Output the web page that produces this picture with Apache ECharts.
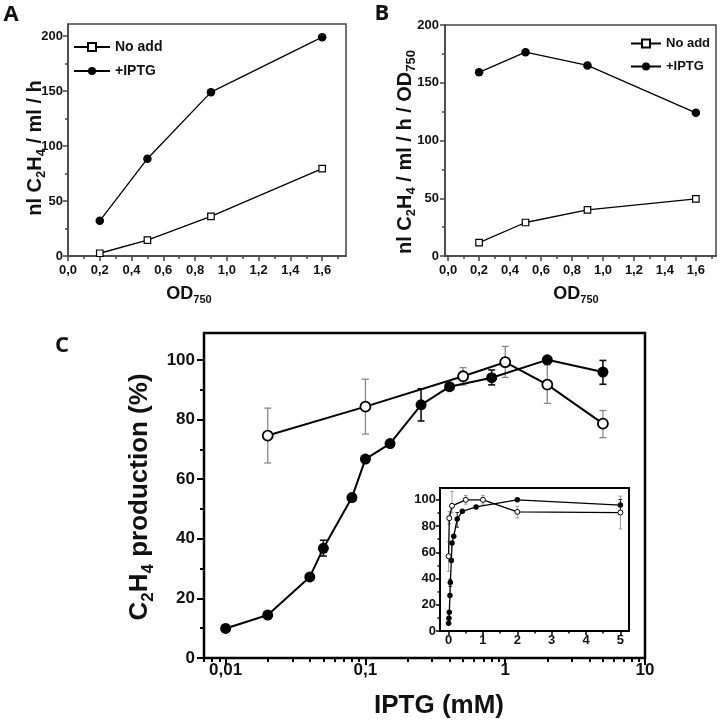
<!DOCTYPE html>
<html><head><meta charset="utf-8">
<script src="https://cdn.jsdelivr.net/npm/echarts@6/dist/echarts.min.js"></script>
<style>html,body{margin:0;padding:0;background:#fff}#c{width:724px;height:726px}</style>
</head><body><div id="c"></div>
<script>
// ---------- Panel A & B data ----------
const odX = [0.2, 0.5, 0.9, 1.6];
const aNoAdd = [2.5, 14.5, 36, 79.5];
const aIPTG = [32, 88.5, 149, 199];
const bNoAdd = [11.5, 29, 40, 49.5];
const bIPTG = [159, 176.5, 165, 124];
// ---------- Panel C (log x) ----------
const cFilledX = [0.01, 0.02, 0.04, 0.05, 0.08, 0.1, 0.15, 0.25, 0.4, 0.8, 2, 5];
const cFilledY = [9.9, 14.4, 27.2, 36.8, 53.8, 66.7, 71.9, 84.9, 91.0, 94.0, 100, 95.9];
const cFilledErrX = [0.05, 0.25, 0.8, 5];
const cFilledErrLo = [34.2, 79.5, 91.6, 91.8];
const cFilledErrHi = [39.5, 90.3, 96.6, 99.8];
const cOpenX = [0.02, 0.1, 0.5, 1, 2, 5];
const cOpenY = [74.6, 84.3, 94.5, 99.2, 91.7, 78.6];
const cOpenErrLo = [65.4, 75.1, 91.6, 94.1, 85.4, 73.9];
const cOpenErrHi = [83.8, 93.5, 97.4, 104.5, 98.3, 83.0];
// ---------- Inset (linear x) ----------
const insFilledX = [0, 0.01, 0.02, 0.04, 0.05, 0.08, 0.1, 0.15, 0.25, 0.4, 0.8, 2, 5];
const insFilledY = [6, 9.7, 14.3, 27, 36.9, 53.8, 67, 72.2, 85.4, 91.2, 94.6, 100, 96];
const insFilledErrX = [0.05, 0.25, 5];
const insFilledErrLo = [34, 79.1, 91.8];
const insFilledErrHi = [39.5, 90.3, 100.2];
const insOpenX = [0, 0.02, 0.1, 0.5, 1, 2, 5];
const insOpenY = [57, 86, 95.4, 100, 100, 90.8, 90.3];
const insOpenErrLo = [45.5, 81.5, 90, 96.7, 96.7, 86.2, 77.8];
const insOpenErrHi = [68, 91, 106.4, 103.3, 103.3, 95, 102.8];
// ---------- Tick values ----------
const odTicks = [0, 0.2, 0.4, 0.6, 0.8, 1.0, 1.2, 1.4, 1.6];
const odMinor = [0.1, 0.3, 0.5, 0.7, 0.9, 1.1, 1.3, 1.5, 1.7];
const rateTicks = [0, 50, 100, 150, 200];
const rateMinor = [25, 75, 125, 175];
const pctTicks = [0, 20, 40, 60, 80, 100];
const pctMinor = [10, 30, 50, 70, 90];
const iptgTicks = [0.01, 0.1, 1, 10];
const iptgMinor = [0.007, 0.008, 0.009, 0.02, 0.03, 0.04, 0.05, 0.06, 0.07, 0.08, 0.09,
  0.2, 0.3, 0.4, 0.5, 0.6, 0.7, 0.8, 0.9, 2, 3, 4, 5, 6, 7, 8, 9];
const insTicks = [0, 1, 2, 3, 4, 5];
const insMinor = [0.5, 1.5, 2.5, 3.5, 4.5];

const FF = '"Liberation Sans", Arial, sans-serif';
const INK = '#111';

function axes(dim, gi, common, major, minor, fmt, fontSize, margin, tickLen, minorLen, color, w) {
  const pos = dim === 'x' ? 'bottom' : 'left';
  const base = Object.assign({ gridIndex: gi, position: pos, splitLine: { show: false }, offset: 0 }, common);
  return [
    Object.assign({}, base, {
      axisLine: { show: true, onZero: false, lineStyle: { color: color, width: w } },
      axisTick: { show: true, customValues: major, length: tickLen, lineStyle: { color: color, width: w } },
      axisLabel: { show: true, customValues: major, formatter: fmt, margin: margin,
        fontFamily: FF, fontWeight: 'bold', fontSize: fontSize, color: INK }
    }),
    Object.assign({}, base, {
      axisLine: { show: false, onZero: false },
      axisTick: { show: true, customValues: minor, length: minorLen, lineStyle: { color: color, width: w } },
      axisLabel: { show: false }
    })
  ];
}
const comma1 = v => v.toFixed(1).replace('.', ',');
const commaAny = v => String(v).replace('.', ',');
const plain = v => String(v);

const xAxes = [].concat(
  axes('x', 0, { type: 'value', min: 0, max: 1.75 }, odTicks, odMinor, comma1, 13, 8, 5, 3, '#444', 1.5),
  axes('x', 1, { type: 'value', min: -0.02, max: 1.73 }, odTicks, odMinor, comma1, 13, 8, 5, 3, '#444', 1.5),
  axes('x', 2, { type: 'log', logBase: 10, min: 0.007, max: 10 }, iptgTicks, iptgMinor, commaAny, 17, 4, 7, 4, '#000', 2),
  axes('x', 3, { type: 'value', min: -0.25, max: 5.25 }, insTicks, insMinor, plain, 13, 3, 4, 2.5, '#000', 1.5)
);
const yAxes = [].concat(
  axes('y', 0, { type: 'value', min: 0, max: 211 }, rateTicks, rateMinor, plain, 13, 5, 5, 3, '#444', 1.5),
  axes('y', 1, { type: 'value', min: 0, max: 200 }, rateTicks, rateMinor, plain, 13, 6, 5, 3, '#444', 1.5),
  axes('y', 2, { type: 'value', min: 0, max: 109 }, pctTicks, pctMinor, plain, 17, 9, 7, 4, '#000', 2),
  axes('y', 3, { type: 'value', min: 0, max: 109 }, pctTicks, pctMinor, plain, 13, 4, 4, 2.5, '#000', 1.5)
);

function zip(xs, ys) { return xs.map((x, i) => [x, ys[i]]); }
function lineSeries(name, ai, xs, ys, symbol, size, open, lw, bw) {
  return {
    type: 'line', name: name, xAxisIndex: ai, yAxisIndex: ai, data: zip(xs, ys),
    symbol: symbol, symbolSize: size, showAllSymbol: true, z: 3, animation: false,
    lineStyle: { color: '#000', width: lw },
    itemStyle: open ? { color: '#fff', borderColor: '#000', borderWidth: bw } : { color: '#000', borderColor: '#000', borderWidth: 0 },
    emphasis: { disabled: true }
  };
}
function errSeries(ai, xs, lo, hi, color, cap, w) {
  return {
    type: 'custom', xAxisIndex: ai, yAxisIndex: ai, z: 2, silent: true, animation: false,
    data: xs.map((x, i) => [x, lo[i], hi[i]]),
    encode: { x: 0, y: [1, 2] },
    renderItem: function (params, api) {
      const p1 = api.coord([api.value(0), api.value(1)]);
      const p2 = api.coord([api.value(0), api.value(2)]);
      const st = { stroke: color, lineWidth: w };
      return { type: 'group', children: [
        { type: 'line', shape: { x1: p1[0], y1: p1[1], x2: p2[0], y2: p2[1] }, style: st },
        { type: 'line', shape: { x1: p1[0] - cap, y1: p1[1], x2: p1[0] + cap, y2: p1[1] }, style: st },
        { type: 'line', shape: { x1: p2[0] - cap, y1: p2[1], x2: p2[0] + cap, y2: p2[1] }, style: st }
      ] };
    }
  };
}

const series = [
  // A (axes 0)
  lineSeries('No add', 0, odX, aNoAdd, 'rect', 6.5, true, 1.3, 1.2),
  lineSeries('+IPTG', 0, odX, aIPTG, 'circle', 8.5, false, 1.3, 0),
  // B (axes 2)
  lineSeries('No add', 2, odX, bNoAdd, 'rect', 6.5, true, 1.3, 1.2),
  lineSeries('+IPTG', 2, odX, bIPTG, 'circle', 8.5, false, 1.3, 0),
  // C (axes 4)
  errSeries(4, cOpenX, cOpenErrLo, cOpenErrHi, '#888', 3.5, 1.3),
  errSeries(4, cFilledErrX, cFilledErrLo, cFilledErrHi, '#111', 3.5, 1.6),
  lineSeries('C filled', 4, cFilledX, cFilledY, 'circle', 11, false, 2, 0),
  lineSeries('C open', 4, cOpenX, cOpenY, 'circle', 10, true, 2, 1.8),
  // Inset (axes 6)
  errSeries(6, insOpenX, insOpenErrLo, insOpenErrHi, '#999', 1.8, 1),
  errSeries(6, insFilledErrX, insFilledErrLo, insFilledErrHi, '#222', 1.8, 1),
  lineSeries('Inset filled', 6, insFilledX, insFilledY, 'circle', 5.5, false, 1.3, 0),
  lineSeries('Inset open', 6, insOpenX, insOpenY, 'circle', 5, true, 1.3, 1)
];

function richTitle(x, y, rot, parts, size, subSize) {
  let text = parts.map(p => (p[1] ? '{s|' : '{a|') + p[0] + '}').join('');
  return {
    type: 'text', x: x, y: y, rotation: rot ? Math.PI / 2 : 0, silent: true,
    style: {
      text: text, align: 'center', verticalAlign: 'middle', fill: INK,
      rich: {
        a: { fontFamily: FF, fontWeight: 'bold', fontSize: size, lineHeight: size * 1.3, fill: INK, color: INK },
        s: { fontFamily: FF, fontWeight: 'bold', fontSize: subSize, lineHeight: subSize, verticalAlign: 'bottom', fill: INK, color: INK }
      }
    }
  };
}
function letter(x, y, t, size) {
  return { type: 'text', x: x, y: y, silent: true,
    style: { text: t, align: 'center', verticalAlign: 'middle', fill: INK,
      font: 'bold ' + size + 'px "Open Sans", sans-serif' } };
}

const graphics = [
  letter(11, 15, 'A', 22),
  letter(382, 14, 'B', 22),
  letter(62, 346, 'C', 22),
  richTitle(35, 148, true, [['nl C'], ['2', 1], ['H'], ['4', 1], [' / ml / h']], 20, 13),
  richTitle(405, 152, true, [['nl C'], ['2', 1], ['H'], ['4', 1], [' / ml / h / OD'], ['750', 1]], 20, 13),
  richTitle(189, 294, false, [['OD'], ['750', 1]], 18, 11),
  richTitle(576, 294, false, [['OD'], ['750', 1]], 18, 11),
  richTitle(140, 497, true, [['C'], ['2', 1], ['H'], ['4', 1], [' production (%)']], 26, 17),
  richTitle(439, 706, false, [['IPTG (mM)']], 26, 17)
];

const gridBase = { show: true, containLabel: false, outerBoundsMode: 'none', backgroundColor: 'transparent' };
const option = {
  animation: false,
  backgroundColor: '#fff',
  grid: [
    Object.assign({}, gridBase, { left: 68, top: 24, width: 278, height: 232, borderColor: '#444', borderWidth: 1.5 }),
    Object.assign({}, gridBase, { left: 445, top: 25, width: 271, height: 231, borderColor: '#444', borderWidth: 1.5 }),
    Object.assign({}, gridBase, { left: 204, top: 333, width: 441, height: 325, borderColor: '#000', borderWidth: 2.5 }),
    Object.assign({}, gridBase, { left: 440, top: 488, width: 189, height: 143, borderColor: '#000', borderWidth: 2, backgroundColor: '#fff' })
  ],
  xAxis: xAxes,
  yAxis: yAxes,
  legend: [
    { orient: 'vertical', left: 73, top: 40, padding: 0, itemWidth: 36, itemHeight: 10, itemGap: 10,
      selectedMode: false, data: ['No add', '+IPTG'],
      textStyle: { fontFamily: FF, fontWeight: 'bold', fontSize: 14, color: INK } },
    { orient: 'vertical', left: 630, top: 37, padding: 0, itemWidth: 30, itemHeight: 10, itemGap: 10,
      selectedMode: false, data: ['No add', '+IPTG'],
      textStyle: { fontFamily: FF, fontWeight: 'bold', fontSize: 13, color: INK } }
  ],
  graphic: graphics,
  series: series
};
const chart = echarts.init(document.getElementById('c'), null, { renderer: 'canvas' });
chart.setOption(option);
</script></body></html>
